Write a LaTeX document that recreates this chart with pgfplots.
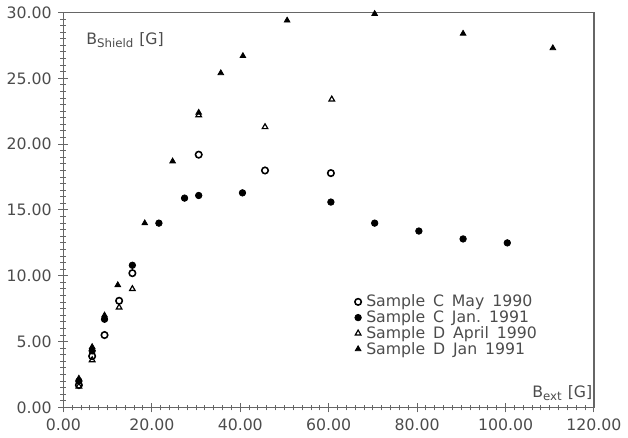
\documentclass[border=0pt]{standalone}
\usepackage{pgfplots}
\pgfplotsset{compat=1.18}
\usepackage{fontspec}
\setmainfont{DejaVu Sans}
\definecolor{ink}{gray}{0.3}
\newcommand\gap{\hspace{4pt}}
\begin{document}
\begin{tikzpicture}
\begin{axis}[
  scale only axis, width=270pt, height=201pt,
  xmin=0, xmax=120, ymin=0, ymax=30,
  xtick distance=20, ytick distance=5,
  minor x tick num=9, minor y tick num=9,
  tick pos=left, tick align=center,
  major tick length=5pt, minor tick length=3pt,
  axis line style={black!60, line width=0.6pt},
  every tick/.style={black!60, line width=0.5pt},
  /pgf/number format/.cd, fixed, fixed zerofill, precision=2, assume math mode=true,
  /pgfplots/.cd,
  tick label style={font=\fontsize{8}{9}\selectfont, text=ink},
  legend style={at={(axis cs:64.5,8.9)}, anchor=north west, draw=none, fill=none,
    font=\fontsize{8}{8}\selectfont, text=ink, row sep=0.6pt,
    nodes={inner sep=0.5pt, inner xsep=2.5pt, text height=5.8pt, text depth=0.6pt}},
  legend cell align=left,
  legend image code/.code={\draw[#1] plot coordinates {(0.05cm,0cm)};},
  every axis plot/.append style={only marks, black, mark size=1.65pt},
]
% Sample C May 1990
\addplot[mark=o, thick] coordinates {
  (3.5,1.7)(6.5,3.9)(9.3,5.5)(12.6,8.1)(15.6,10.2)
  (30.6,19.2)(45.6,18.0)(60.5,17.8)
};
\addlegendentry{Sample\gap C\gap May\gap 1990}
% Sample C Jan 1991
\addplot[mark=*] coordinates {
  (3.5,2.0)(6.5,4.3)(9.3,6.7)(15.6,10.8)(21.6,14.0)(27.4,15.9)
  (30.6,16.1)(40.5,16.3)(60.5,15.6)(70.4,14.0)(80.4,13.4)
  (90.4,12.8)(100.4,12.5)
};
\addlegendentry{Sample\gap C\gap Jan.\gap 1991}
% Sample D April 1990
\addplot[mark=triangle, semithick] coordinates {
  (3.5,1.6)(6.5,3.6)(12.6,7.6)(15.6,9.0)(30.6,22.2)(45.6,21.3)(60.7,23.4)
};
\addlegendentry{Sample\gap D\gap April\gap 1990}
% Sample D Jan 1991
\addplot[mark=triangle*] coordinates {
  (3.5,2.2)(6.5,4.6)(9.3,7.0)(12.3,9.3)(18.4,14.0)(24.7,18.7)
  (30.6,22.4)(35.6,25.4)(40.6,26.7)(50.6,29.4)(70.4,29.9)
  (90.4,28.4)(110.7,27.3)
};
\addlegendentry{Sample\gap D\gap Jan\gap 1991}
\node[anchor=west, font=\fontsize{8}{9}\selectfont, text=ink] at (axis cs:3.6,27.9) {B\textsubscript{Shield} [G]};
\node[anchor=west, font=\fontsize{8}{9}\selectfont, text=ink] at (axis cs:104.5,1.1) {B\textsubscript{ext} [G]};
\end{axis}
\end{tikzpicture}
\end{document}
